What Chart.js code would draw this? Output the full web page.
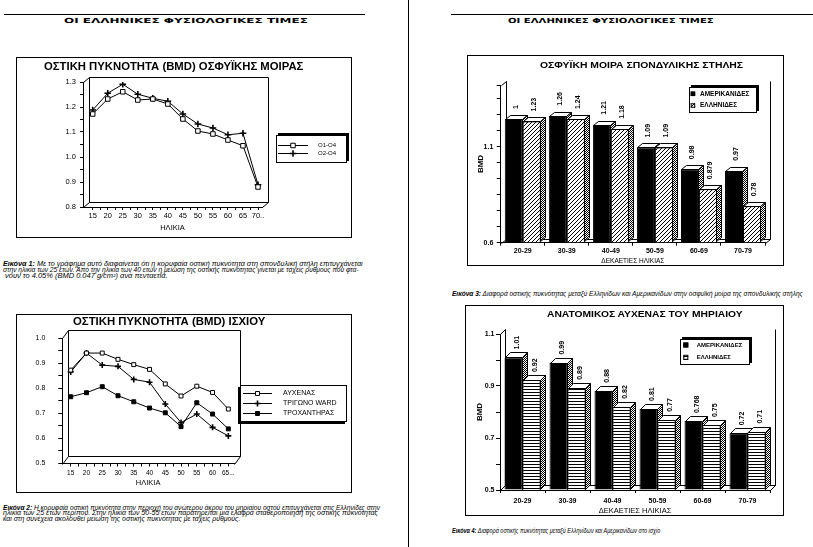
<!DOCTYPE html>
<html>
<head>
<meta charset="utf-8">
<script src="https://cdn.jsdelivr.net/npm/chart.js@4.4.0/dist/chart.umd.min.js"></script>
<style>
html, body { margin: 0; padding: 0; background: #fff; }
body { width: 813px; height: 547px; position: relative; overflow: hidden; font-family: "Liberation Sans", Arial, sans-serif; color: #000; }
.rule { position: absolute; background: #000; }
.box { position: absolute; border: 1px solid #000; box-sizing: border-box; }
.txt { position: absolute; white-space: nowrap; line-height: 1; transform-origin: 0 50%; }
canvas { position: absolute; }
</style>
</head>
<body>
<div class="rule" style="left:408px;top:0;width:1px;height:547px"></div>
<div class="rule" style="left:4px;top:14px;width:361px;height:1px"></div>
<div class="rule" style="left:451px;top:14px;width:362px;height:1px"></div>

<div class="box" style="left:16px;top:57px;width:336px;height:181px"></div>
<div class="box" style="left:16px;top:314px;width:336px;height:179px"></div>
<div class="box" style="left:467px;top:55px;width:317px;height:211px"></div>
<div class="box" style="left:465px;top:305px;width:319px;height:211px"></div>

<canvas id="spineLine" width="335" height="180" style="left:16px;top:57px"></canvas>
<canvas id="hipLine" width="335" height="178" style="left:16px;top:314px"></canvas>
<canvas id="spineBars" width="316" height="210" style="left:467px;top:55px"></canvas>
<canvas id="neckBars" width="318" height="210" style="left:465px;top:305px"></canvas>

<script>
// ---- δεδομένα ----
const ages1 = [15, 20, 25, 30, 35, 40, 45, 50, 55, 60, 65, 70];
const ageLabels1 = ['15', '20', '25', '30', '35', '40', '45', '50', '55', '60', '65', '70..'];
const o1o4 = [1.172, 1.232, 1.261, 1.228, 1.232, 1.212, 1.152, 1.104, 1.092, 1.068, 1.045, 0.880];
const o2o4 = [1.188, 1.255, 1.291, 1.251, 1.235, 1.223, 1.172, 1.132, 1.116, 1.089, 1.095, 0.889];

const ages2 = [15, 20, 25, 30, 35, 40, 45, 50, 55, 60, 65];
const ageLabels2 = ['15', '20', '25', '30', '35', '40', '45', '50', '55', '60', '65...'];
const afxenas = [0.872, 0.940, 0.940, 0.915, 0.894, 0.875, 0.817, 0.769, 0.808, 0.783, 0.717];
const ward = [0.865, 0.940, 0.892, 0.887, 0.835, 0.824, 0.737, 0.663, 0.697, 0.644, 0.610];
const trochanter = [0.766, 0.782, 0.806, 0.770, 0.746, 0.721, 0.702, 0.647, 0.742, 0.697, 0.638];

const decades = ['20-29', '30-39', '40-49', '50-59', '60-69', '70-79'];
const spineAm = [1.245, 1.262, 1.215, 1.096, 0.983, 0.975];
const spineGr = [1.232, 1.244, 1.193, 1.096, 0.879, 0.790];
const spineAmText = ['1', '1.26', '1.21', '1.09', '0.98', '0.97'];
const spineGrText = ['1.23', '1.24', '1.18', '1.09', '0.879', '0.78'];
const spineTicks = [0.6, 0.6833, 0.7667, 0.85, 0.9333, 1.0167, 1.1, 1.1833, 1.2667, 1.35, 1.42];
const spineTickLabels = [0.6, 1.1];

const neckAm = [1.010, 0.990, 0.882, 0.812, 0.765, 0.718];
const neckGr = [0.923, 0.893, 0.820, 0.770, 0.750, 0.725];
const neckAmText = ['1.01', '0.99', '0.88', '0.81', '0.768', '0.72'];
const neckGrText = ['0.92', '0.89', '0.82', '0.77', '0.75', '0.71'];
const neckTickLabels = [0.5, 0.7, 0.9, 1.1];

const header = 'ΟΙ ΕΛΛΗΝΙΚΕΣ ΦΥΣΙΟΛΟΓΙΚΕΣ ΤΙΜΕΣ';
const caption1 = [
    '<b>Εικόνα 1:</b> Με το γράφημα αυτό διαφαίνεται ότι η κορυφαία οστική πυκνότητα στη σπονδυλική στήλη επιτυγχάνεται',
    'στην ηλικία των 25 ετών. Από την ηλικία των 40 ετών η μείωση της οστικής πυκνότητας γίνεται με ταχείς ρυθμούς που φτά-',
    'νουν το 4.05% (BMD 0.047 g/cm²) ανά πενταετία.'
];
const caption2 = [
    '<b>Εικόνα 2:</b> Η κορυφαία οστική πυκνότητα στην περιοχή του ανώτερου άκρου του μηριαίου οστού επιτυγχάνεται στις Ελληνίδες στην',
    'ηλικία των 25 ετών περίπου. Στην ηλικία των 50-55 ετών παρατηρείται μιά ελαφρά σταθεροποίηση της οστικής πυκνότητας',
    'και στη συνέχεια ακολουθεί μείωση της οστικής πυκνότητας με ταχείς ρυθμούς.'
];
const caption3 = '<b>Εικόνα 3:</b> Διαφορά οστικής πυκνότητας μεταξύ Ελληνίδων και Αμερικανίδων στην οσφυϊκή μοίρα της σπονδυλικής στήλης';
const caption4 = '<b>Εικόνα 4:</b> Διαφορά οστικής πυκνότητας μεταξύ Ελληνίδων και Αμερικανίδων στο ισχίο';

// ---- κείμενα σελίδας ----
function putText(html, x, y, width, font) {
    const d = document.createElement('div');
    d.className = 'txt';
    d.innerHTML = html;
    d.style.font = font;
    d.style.left = x + 'px';
    d.style.top = y + 'px';
    document.body.appendChild(d);
    const s = width / d.offsetWidth;
    d.style.transform = 'translateY(-50%) scaleX(' + s + ')';
}

putText(header, 64, 20.7, 243, 'bold 7px "DejaVu Sans"');
putText(header, 508, 20.7, 205, 'bold 7px "DejaVu Sans"');

putText('ΟΣΤΙΚΗ ΠΥΚΝΟΤΗΤΑ (BMD) ΟΣΦΥΪΚΗΣ ΜΟΙΡΑΣ', 44, 66, 259, 'bold 10px "Liberation Sans"');
putText('ΟΣΤΙΚΗ ΠΥΚΝΟΤΗΤΑ (BMD) ΙΣΧΙΟΥ', 73, 321, 192, 'bold 10px "Liberation Sans"');
putText('ΟΣΦΥΪΚΗ ΜΟΙΡΑ ΣΠΟΝΔΥΛΙΚΗΣ ΣΤΗΛΗΣ', 540, 65, 203, 'bold 8.5px "Liberation Sans"');
putText('ΑΝΑΤΟΜΙΚΟΣ ΑΥΧΕΝΑΣ ΤΟΥ ΜΗΡΙΑΙΟΥ', 547, 314, 196, 'bold 8.5px "Liberation Sans"');

const capFont = 'italic 6.5px "Liberation Sans"';
putText(caption1[0], 3, 263.3, 360, capFont);
putText(caption1[1], 3.3, 269.2, 355, capFont);
putText(caption1[2], 5, 275, 162, capFont);
putText(caption2[0], 3.3, 506.7, 377, capFont);
putText(caption2[1], 3.3, 512.3, 375, capFont);
putText(caption2[2], 3.3, 517.8, 237, capFont);
putText(caption3, 452, 293.3, 351, capFont);
putText(caption4, 452, 530, 208, capFont);

// ---- ρυθμίσεις Chart.js ----
Chart.defaults.font.family = '"Liberation Sans", Arial, sans-serif';
Chart.defaults.color = '#000';
Chart.defaults.animation = false;
Chart.defaults.responsive = false;
Chart.defaults.plugins.legend.display = false;
Chart.defaults.plugins.tooltip.enabled = false;

// τρισδιάστατο πλαίσιο (πίσω τοίχος + δάπεδο)
const frame3d = {
    id: 'frame3d',
    beforeDatasetsDraw(chart, args, o) {
        const a = chart.chartArea, ctx = chart.ctx;
        const L = Math.round(a.left) + 0.5, R = Math.round(a.right) + 0.5;
        const T = Math.round(a.top) + 0.5, B = Math.round(a.bottom) + 0.5;
        const dx = o.dx, dy = o.dy;
        ctx.save();
        ctx.strokeStyle = '#000';
        ctx.lineWidth = 1;
        ctx.beginPath();
        ctx.moveTo(L, T); ctx.lineTo(L + dx, T + dy);
        ctx.moveTo(L, B); ctx.lineTo(L + dx, B + dy);
        ctx.moveTo(R, B); ctx.lineTo(R + dx, B + dy);
        ctx.moveTo(L + dx, T + dy);
        ctx.lineTo(L + dx, B + dy);
        ctx.lineTo(R + dx, B + dy);
        ctx.lineTo(R + dx, T + dy);
        if (o.closedTop) ctx.lineTo(L + dx, T + dy);
        ctx.stroke();
        ctx.restore();
    }
};

function drawMarker(ctx, style, r, fill, x, y) {
    ctx.beginPath();
    if (style === 'rect') {
        const s = Math.SQRT1_2 * r;
        ctx.rect(x - s, y - s, 2 * s, 2 * s);
        ctx.fillStyle = fill;
        ctx.fill();
        ctx.stroke();
    } else {
        ctx.moveTo(x - r, y); ctx.lineTo(x + r, y);
        ctx.moveTo(x, y - r); ctx.lineTo(x, y + r);
        ctx.stroke();
    }
}

// υπόμνημα σε πλαίσιο με σκιά
const boxLegend = {
    id: 'boxLegend',
    afterDraw(chart, args, o) {
        const ctx = chart.ctx;
        const x = o.box[0], y = o.box[1], w = o.box[2], h = o.box[3];
        ctx.save();
        ctx.fillStyle = '#000';
        ctx.fillRect(x + o.shadow[0], y + o.shadow[1], w, h);
        ctx.fillStyle = '#fff';
        ctx.fillRect(x, y, w, h);
        ctx.strokeStyle = '#000';
        ctx.lineWidth = 1;
        ctx.strokeRect(x + 0.5, y + 0.5, w - 1, h - 1);
        ctx.font = o.font;
        ctx.textBaseline = 'middle';
        ctx.textAlign = 'left';
        chart.data.datasets.forEach(function(ds, i) {
            const ry = o.rows[i];
            ctx.strokeStyle = '#000';
            if (o.kind === 'line') {
                ctx.lineWidth = 1;
                ctx.beginPath();
                ctx.moveTo(o.sample[0], Math.round(ry) + 0.5);
                ctx.lineTo(o.sample[1], Math.round(ry) + 0.5);
                ctx.stroke();
                ctx.lineWidth = ds.pointBorderWidth;
                drawMarker(ctx, ds.pointStyle, ds.pointRadius, ds.pointBackgroundColor,
                    (o.sample[0] + o.sample[1]) / 2, Math.round(ry) + 0.5);
            } else {
                const s = o.swatch[1];
                ctx.fillStyle = ds.backgroundColor;
                ctx.fillRect(o.swatch[0], ry - s / 2, s, s);
                ctx.lineWidth = 1;
                ctx.strokeRect(o.swatch[0] + 0.5, ry - s / 2 + 0.5, s - 1, s - 1);
            }
            ctx.fillStyle = '#000';
            ctx.fillText(ds.label, o.textX, ry);
        });
        ctx.restore();
    }
};

// τρισδιάστατες στήλες + ετικέτες τιμών
const bars3d = {
    id: 'bars3d',
    afterDatasetsDraw(chart, args, o) {
        const ctx = chart.ctx;
        const metas = chart.data.datasets.map(function(d, i) { return chart.getDatasetMeta(i); });
        const n = metas[0].data.length;
        ctx.save();
        ctx.strokeStyle = '#000';
        ctx.lineWidth = 1;
        for (let i = 0; i < n; i++) {
            metas.forEach(function(meta, k) {
                const bar = meta.data[i];
                if (k > 0) bar.draw(ctx);
                const l = Math.round(bar.x - bar.width / 2) + 0.5, r = Math.round(bar.x + bar.width / 2) - 0.5;
                const t = Math.round(bar.y) + 0.5, b = Math.round(bar.base) - 0.5;
                ctx.beginPath();
                ctx.moveTo(l, t); ctx.lineTo(l + o.dx, t + o.dy); ctx.lineTo(r + o.dx, t + o.dy); ctx.lineTo(r, t);
                ctx.closePath();
                ctx.fillStyle = '#fff';
                ctx.fill();
                ctx.stroke();
                ctx.beginPath();
                ctx.moveTo(r, t); ctx.lineTo(r + o.dx, t + o.dy); ctx.lineTo(r + o.dx, b + o.dy); ctx.lineTo(r, b);
                ctx.closePath();
                ctx.fillStyle = o.sides[k];
                ctx.fill();
                ctx.stroke();
            });
        }
        ctx.fillStyle = '#000';
        ctx.font = o.font;
        ctx.textAlign = 'left';
        ctx.textBaseline = 'middle';
        metas.forEach(function(meta, k) {
            meta.data.forEach(function(bar, i) {
                ctx.save();
                ctx.translate(bar.x + o.labelDx, bar.y - o.labelGap);
                ctx.rotate(-Math.PI / 2);
                ctx.fillText(o.texts[k][i], 0, 0);
                ctx.restore();
            });
        });
        ctx.restore();
    }
};

function makePattern(kind) {
    const c = document.createElement('canvas');
    const p = c.getContext('2d');
    if (kind === 'diag') {
        c.width = 4; c.height = 4;
        p.fillStyle = '#fff'; p.fillRect(0, 0, 4, 4);
        p.fillStyle = '#000';
        for (let i = 0; i < 4; i++) p.fillRect(i, 3 - i, 1, 1);
    } else if (kind === 'horiz') {
        c.width = 1; c.height = 3;
        p.fillStyle = '#fff'; p.fillRect(0, 0, 1, 3);
        p.fillStyle = '#000'; p.fillRect(0, 0, 1, 1);
    } else {
        c.width = 2; c.height = 2;
        p.fillStyle = '#fff'; p.fillRect(0, 0, 2, 2);
        p.fillStyle = '#000'; p.fillRect(0, 0, 1, 1); p.fillRect(1, 1, 1, 1);
    }
    return p.createPattern(c, 'repeat');
}

function tenthLabel(value) {
    return Math.abs(value * 10 - Math.round(value * 10)) < 1e-6 ? value.toFixed(1) : '';
}

function ageTicks(ages) {
    return function(scale) {
        const ticks = [];
        ages.forEach(function(a, i) {
            ticks.push({ value: a });
            if (i < ages.length - 1) ticks.push({ value: a + 2.5 });
        });
        scale.ticks = ticks;
    };
}

function pairs(xs, ys) {
    return xs.map(function(x, i) { return { x: x, y: ys[i] }; });
}

// ---- Γράφημα 1: οσφυϊκή μοίρα ----
function createSpineLine() {
    new Chart(document.getElementById('spineLine'), {
        type: 'line',
        data: {
            datasets: [{
                label: 'O1-O4',
                data: pairs(ages1, o1o4),
                borderColor: '#000', borderWidth: 1, tension: 0,
                pointStyle: 'rect', pointRadius: 3.2, pointBorderWidth: 1,
                pointBackgroundColor: '#fff', pointBorderColor: '#000'
            }, {
                label: 'O2-O4',
                data: pairs(ages1, o2o4),
                borderColor: '#000', borderWidth: 1, tension: 0,
                pointStyle: 'cross', pointRadius: 3.3, pointBorderWidth: 1.6,
                pointBackgroundColor: '#000', pointBorderColor: '#000'
            }]
        },
        options: {
            layout: { padding: { left: 0, top: 25, right: 89, bottom: 0 } },
            scales: {
                x: {
                    type: 'linear', min: 11.77, max: 71.33,
                    afterBuildTicks: ageTicks(ages1),
                    afterFit: function(s) { s.height = 30; },
                    grid: { drawOnChartArea: false, tickLength: 3, color: '#000' },
                    border: { color: '#000' },
                    ticks: {
                        autoSkip: false, maxRotation: 0, padding: 1, font: { size: 7.5 },
                        callback: function(v) { const i = ages1.indexOf(v); return i >= 0 ? ageLabels1[i] : ''; }
                    },
                    title: { display: true, text: 'ΗΛΙΚΙΑ', font: { size: 7.5 }, padding: { top: 0, bottom: 4.5 } }
                },
                y: {
                    min: 0.8, max: 1.3,
                    afterFit: function(s) { s.width = 67; },
                    grid: { drawOnChartArea: false, tickLength: 3, color: '#000' },
                    border: { color: '#000' },
                    ticks: { stepSize: 0.05, autoSkip: false, padding: 4, font: { size: 7.5 }, callback: tenthLabel }
                }
            },
            plugins: {
                frame3d: { dx: 6, dy: -5, closedTop: true },
                boxLegend: {
                    kind: 'line', box: [260, 78, 71, 28], shadow: [2, -2],
                    rows: [88, 96.3], sample: [262, 292], textX: 302, font: '6px "Liberation Sans"'
                }
            }
        },
        plugins: [frame3d, boxLegend]
    });
}

// ---- Γράφημα 2: ισχίο ----
function createHipLine() {
    new Chart(document.getElementById('hipLine'), {
        type: 'line',
        data: {
            datasets: [{
                label: 'ΑΥΧΕΝΑΣ',
                data: pairs(ages2, afxenas),
                borderColor: '#000', borderWidth: 1, tension: 0,
                pointStyle: 'rect', pointRadius: 2.8, pointBorderWidth: 1,
                pointBackgroundColor: '#fff', pointBorderColor: '#000'
            }, {
                label: 'ΤΡΙΓΩΝΟ WARD',
                data: pairs(ages2, ward),
                borderColor: '#000', borderWidth: 1, tension: 0,
                pointStyle: 'cross', pointRadius: 3, pointBorderWidth: 1.6,
                pointBackgroundColor: '#000', pointBorderColor: '#000'
            }, {
                label: 'ΤΡΟΧΑΝΤΗΡΑΣ',
                data: pairs(ages2, trochanter),
                borderColor: '#000', borderWidth: 1, tension: 0,
                pointStyle: 'rect', pointRadius: 2.8, pointBorderWidth: 1,
                pointBackgroundColor: '#000', pointBorderColor: '#000'
            }]
        },
        options: {
            layout: { padding: { left: 0, top: 24, right: 117, bottom: 0 } },
            scales: {
                x: {
                    type: 'linear', min: 12.33, max: 66.8,
                    afterBuildTicks: ageTicks(ages2),
                    afterFit: function(s) { s.height = 28.5; },
                    grid: { drawOnChartArea: false, tickLength: 3, color: '#000' },
                    border: { color: '#000' },
                    ticks: {
                        autoSkip: false, maxRotation: 0, padding: 3, font: { size: 6.5 },
                        callback: function(v) { const i = ages2.indexOf(v); return i >= 0 ? ageLabels2[i] : ''; }
                    },
                    title: { display: true, text: 'ΗΛΙΚΙΑ', font: { size: 7.5 }, padding: { top: 0, bottom: 4.5 } }
                },
                y: {
                    min: 0.5, max: 1.0,
                    afterFit: function(s) { s.width = 46.3; },
                    grid: { drawOnChartArea: false, tickLength: 4, color: '#000' },
                    border: { color: '#000' },
                    ticks: { stepSize: 0.05, autoSkip: false, padding: 13, font: { size: 7 }, callback: tenthLabel }
                }
            },
            plugins: {
                frame3d: { dx: 6, dy: -8, closedTop: true },
                boxLegend: {
                    kind: 'line', box: [224, 71, 107, 37], shadow: [-2, 2],
                    rows: [79.3, 88.7, 98.7], sample: [227, 256], textX: 267, font: '7px "Liberation Sans"'
                }
            }
        },
        plugins: [frame3d, boxLegend]
    });
}

// ---- Γράφημα 3: σπονδυλική στήλη (στήλες) ----
function createSpineBars() {
    const hatch = makePattern('diag');
    const side = makePattern('check');
    new Chart(document.getElementById('spineBars'), {
        type: 'bar',
        data: {
            labels: decades,
            datasets: [{
                label: 'ΑΜΕΡΙΚΑΝΙΔΕΣ', data: spineAm, base: 0.6,
                backgroundColor: '#000', borderColor: '#000', borderWidth: 1,
                categoryPercentage: 0.815, barPercentage: 1
            }, {
                label: 'ΕΛΛΗΝΙΔΕΣ', data: spineGr, base: 0.6,
                backgroundColor: hatch, borderColor: '#000', borderWidth: 1,
                categoryPercentage: 0.815, barPercentage: 1
            }]
        },
        options: {
            layout: { padding: { left: 0, top: 30.3, right: 18, bottom: 0 } },
            scales: {
                x: {
                    afterFit: function(s) { s.height = 22.3; },
                    grid: { drawOnChartArea: false, tickLength: 3, color: '#000', offset: true },
                    border: { color: '#000' },
                    ticks: { autoSkip: false, maxRotation: 0, padding: 1.5, font: { size: 7, weight: 'bold' } },
                    title: { display: true, text: 'ΔΕΚΑΕΤΙΕΣ ΗΛΙΚΙΑΣ', font: { size: 6.5 }, padding: { top: 0, bottom: 0.2 } }
                },
                y: {
                    min: 0.6, max: 1.42,
                    afterFit: function(s) { s.width = 33.7; },
                    afterBuildTicks: function(s) { s.ticks = spineTicks.map(function(v) { return { value: v }; }); },
                    grid: { drawOnChartArea: false, tickLength: 4, color: '#000' },
                    border: { color: '#000' },
                    ticks: {
                        autoSkip: false, padding: 3.4, font: { size: 7, weight: 'bold' },
                        callback: function(v) {
                            return spineTickLabels.some(function(t) { return Math.abs(t - v) < 1e-6; }) ? v.toFixed(1) : '';
                        }
                    },
                    title: { display: true, text: 'BMD', font: { size: 8, weight: 'bold' }, padding: { top: 8.9, bottom: 0 } }
                }
            },
            plugins: {
                frame3d: { dx: 5, dy: -4, closedTop: false },
                bars3d: {
                    dx: 5, dy: -4, sides: [side, side],
                    texts: [spineAmText, spineGrText], labelDx: 2, labelGap: 10,
                    font: 'bold 7px "Liberation Sans"'
                },
                boxLegend: {
                    kind: 'bar', box: [222, 32, 68, 26], shadow: [2, -2],
                    rows: [38.8, 50.5], swatch: [223.7, 4.5], textX: 233, font: 'bold 6.5px "Liberation Sans"'
                }
            }
        },
        plugins: [frame3d, bars3d, boxLegend]
    });
}

// ---- Γράφημα 4: αυχένας μηριαίου (στήλες) ----
function createNeckBars() {
    const stripes = makePattern('horiz');
    const side = makePattern('check');
    new Chart(document.getElementById('neckBars'), {
        type: 'bar',
        data: {
            labels: decades,
            datasets: [{
                label: 'ΑΜΕΡΙΚΑΝΙΔΕΣ', data: neckAm, base: 0.5,
                backgroundColor: '#000', borderColor: '#000', borderWidth: 1,
                categoryPercentage: 0.8, barPercentage: 1
            }, {
                label: 'ΕΛΛΗΝΙΔΕΣ', data: neckGr, base: 0.5,
                backgroundColor: stripes, borderColor: '#000', borderWidth: 1,
                categoryPercentage: 0.8, barPercentage: 1
            }]
        },
        options: {
            layout: { padding: { left: 0, top: 29, right: 13, bottom: 0 } },
            scales: {
                x: {
                    afterFit: function(s) { s.height = 25; },
                    grid: { drawOnChartArea: false, tickLength: 3, color: '#000', offset: true },
                    border: { color: '#000' },
                    ticks: { autoSkip: false, maxRotation: 0, padding: 4, font: { size: 7, weight: 'bold' } },
                    title: { display: true, text: 'ΔΕΚΑΕΤΙΕΣ ΗΛΙΚΙΑΣ', font: { size: 7.5 }, padding: { top: 0, bottom: 0 } }
                },
                y: {
                    min: 0.5, max: 1.1,
                    afterFit: function(s) { s.width = 35; },
                    grid: { drawOnChartArea: false, tickLength: 4, color: '#000' },
                    border: { color: '#000' },
                    ticks: {
                        stepSize: 0.1, autoSkip: false, padding: 1.5, font: { size: 7, weight: 'bold' },
                        callback: function(v) {
                            return neckTickLabels.some(function(t) { return Math.abs(t - v) < 1e-6; }) ? v.toFixed(1) : '';
                        }
                    },
                    title: { display: true, text: 'BMD', font: { size: 8, weight: 'bold' }, padding: { top: 10.2, bottom: 0 } }
                }
            },
            plugins: {
                frame3d: { dx: 5, dy: -5, closedTop: false },
                bars3d: {
                    dx: 5, dy: -5, sides: [side, side],
                    texts: [neckAmText, neckGrText], labelDx: 4, labelGap: 8,
                    font: 'bold 7px "Liberation Sans"'
                },
                boxLegend: {
                    kind: 'bar', box: [215, 34, 70, 26], shadow: [2, -2],
                    rows: [40, 52.3], swatch: [218.3, 5], textX: 231.7, font: 'bold 6px "Liberation Sans"'
                }
            }
        },
        plugins: [frame3d, bars3d, boxLegend]
    });
}

createSpineLine();
createHipLine();
createSpineBars();
createNeckBars();
</script>
</body>
</html>
